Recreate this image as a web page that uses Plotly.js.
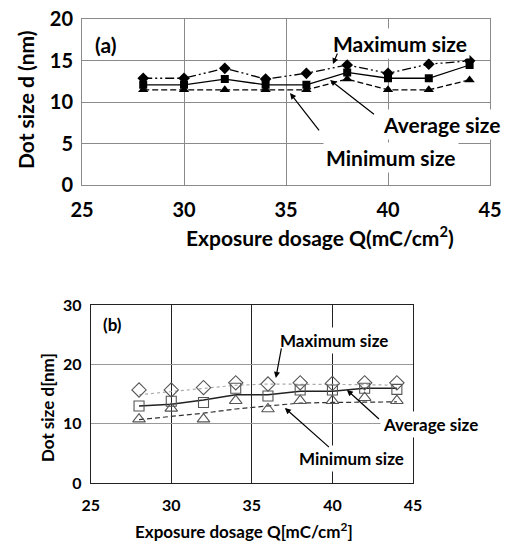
<!DOCTYPE html>
<html>
<head>
<meta charset="utf-8">
<script src="https://cdn.plot.ly/plotly-3.0.1.min.js"></script>
<style>html,body{margin:0;padding:0;background:#fff}#chart{width:505px;height:541px}</style>
</head>
<body>
<div id="chart"></div>
<script>
// ---- Panel (a) data ----
const dosageA = [28, 30, 32, 34, 36, 38, 40, 42, 44];
const maxSizeA = [12.9, 12.9, 14.1, 12.8, 13.5, 14.5, 13.5, 14.6, 15.0];
const avgSizeA = [12.1, 12.1, 12.8, 12.1, 12.1, 13.6, 12.9, 12.9, 14.5];
const minSizeA = [11.5, 11.5, 11.5, 11.5, 11.5, 12.8, 11.5, 11.5, 12.7];

// ---- Panel (b) data ----
const dosageB = [28, 30, 32, 34, 36, 38, 40, 42, 44];
const maxPointsB = [15.7, 15.7, 16.1, 16.9, 16.7, 16.9, 16.8, 16.9, 16.9];
const maxLineB   = [14.9, 15.4, 15.9, 16.5, 16.7, 16.7, 16.6, 16.6, 16.5];
const avgPointsB = [13.0, 13.8, 13.6, 16.0, 14.7, 15.7, 15.7, 16.0, 15.8];
const avgLineB   = [13.0, 13.3, 14.0, 14.9, 14.9, 15.5, 15.5, 16.0, 16.0];
const minPointsB = [10.8, 12.6, 10.8, 13.9, 12.5, 13.9, 13.9, 14.4, 13.9];
const minLineB   = [10.7, 11.2, 11.8, 12.5, 13.0, 13.5, 13.6, 13.7, 13.7];

const xTicks = [25, 30, 35, 40, 45];
const yTicksA = [0, 5, 10, 15, 20];
const yTicksB = [0, 10, 20, 30];

const FONT = 'Lato, "Open Sans", sans-serif';

const traces = [
  // (a)
  {x: dosageA, y: maxSizeA, xaxis: 'x', yaxis: 'y', mode: 'lines+markers', name: 'Maximum size',
   line: {color: '#000', width: 1.3, dash: '9px,3px,2px,3px,2px,3px'},
   marker: {symbol: 'diamond', size: 9, color: '#000'}},
  {x: dosageA, y: avgSizeA, xaxis: 'x', yaxis: 'y', mode: 'lines+markers', name: 'Average size',
   line: {color: '#000', width: 1.3},
   marker: {symbol: 'square', size: 8, color: '#000'}},
  {x: dosageA, y: minSizeA, xaxis: 'x', yaxis: 'y', mode: 'lines+markers', name: 'Minimum size',
   line: {color: '#000', width: 1.3, dash: '6px,3px'},
   marker: {symbol: 'triangle-up', size: 9, color: '#000'}},
  // (b) lines
  {x: dosageB, y: maxLineB, xaxis: 'x2', yaxis: 'y2', mode: 'lines', name: 'Maximum size line',
   line: {color: '#aaa', width: 1.2, dash: 'dot'}},
  {x: dosageB, y: avgLineB, xaxis: 'x2', yaxis: 'y2', mode: 'lines', name: 'Average size line',
   line: {color: '#222', width: 1.5}},
  {x: dosageB, y: minLineB, xaxis: 'x2', yaxis: 'y2', mode: 'lines', name: 'Minimum size line',
   line: {color: '#333', width: 1.2, dash: '5px,3px'}},
  // (b) markers
  {x: dosageB, y: maxPointsB, xaxis: 'x2', yaxis: 'y2', mode: 'markers', name: 'Maximum size',
   marker: {symbol: 'diamond-open', size: 11, color: '#555', line: {width: 1.1}}},
  {x: dosageB, y: avgPointsB, xaxis: 'x2', yaxis: 'y2', mode: 'markers', name: 'Average size',
   marker: {symbol: 'square-open', size: 10, color: '#555', line: {width: 1.1}}},
  {x: dosageB, y: minPointsB, xaxis: 'x2', yaxis: 'y2', mode: 'markers', name: 'Minimum size',
   marker: {symbol: 'triangle-up-open', size: 11, color: '#555', line: {width: 1.1}}}
];

function lab(text, x, y, xr, yr, size, bg, angle) {
  return {text: '<b>' + text + '</b>', x: x, y: y, xref: xr, yref: yr, showarrow: false,
          font: {family: FONT, size: size, color: '#000'}, bgcolor: bg ? '#fff' : 'rgba(0,0,0,0)',
          borderpad: 2, xanchor: 'center', yanchor: 'middle', textangle: angle || 0};
}
function arr(hx, hy, tx, ty, xr, yr) {
  return {text: '\u00a0', font: {size: 2}, borderpad: 0, x: hx, y: hy, ax: tx, ay: ty,
          xref: xr, yref: yr, axref: xr, ayref: yr,
          showarrow: true, arrowhead: 2, arrowsize: 1, arrowwidth: 1.2, arrowcolor: '#000'};
}

const layout = {
  width: 505, height: 541,
  margin: {l: 0, r: 0, t: 0, b: 0},
  paper_bgcolor: '#fff', plot_bgcolor: '#fff',
  showlegend: false,
  font: {family: FONT, color: '#000'},
  xaxis: {domain: [0.1624, 0.9703], anchor: 'y', range: [25, 45], tickvals: xTicks,
          showgrid: true, gridcolor: '#8a8a8a', gridwidth: 1, zeroline: false,
          showline: true, linecolor: '#8a8a8a', linewidth: 1, mirror: true, ticks: '',
          ticklabelstandoff: 7,
          tickfont: {family: FONT, size: 20, weight: 'bold', color: '#000'}},
  yaxis: {domain: [0.658, 0.964], anchor: 'x', range: [0, 20], tickvals: yTicksA,
          showgrid: true, gridcolor: '#8a8a8a', gridwidth: 1, zeroline: false,
          showline: true, linecolor: '#8a8a8a', linewidth: 1, mirror: true, ticks: '',
          ticklabelstandoff: 4,
          tickfont: {family: FONT, size: 20, weight: 'bold', color: '#000'}},
  xaxis2: {domain: [0.1796, 0.8178], anchor: 'y2', range: [25, 45], tickvals: xTicks,
           showgrid: true, gridcolor: '#222', gridwidth: 1, zeroline: false,
           showline: true, linecolor: '#222', linewidth: 1, mirror: true, ticks: '',
           ticklabelstandoff: 8,
           tickfont: {family: FONT, size: 16, weight: 'bold', color: '#000'}},
  yaxis2: {domain: [0.1067, 0.4362], anchor: 'x2', range: [0, 30], tickvals: yTicksB,
           showgrid: true, gridcolor: '#999', gridwidth: 1, zeroline: false,
           showline: true, linecolor: '#222', linewidth: 1, mirror: true, ticks: '',
           ticklabelstandoff: 5,
           tickfont: {family: FONT, size: 16, weight: 'bold', color: '#000'}},
  annotations: [
    // axis titles
    lab('Exposure dosage Q(mC/cm<sup>2</sup>)', 0.6337, 0.5638, 'paper', 'paper', 21, false),
    lab('Dot size d (nm)', 0.0515, 0.8152, 'paper', 'paper', 21, false, -90),
    lab('Exposure dosage Q[mC/cm<sup>2</sup>]', 0.4832, 0.0203, 'paper', 'paper', 17, false),
    lab('Dot size d[nm]', 0.0931, 0.2458, 'paper', 'paper', 17, false, -90),
    // panel (a) labels
    lab('(a)', 26.13, 17.03, 'x', 'y', 21, false),
    lab('Maximum size', 40.59, 17.15, 'x', 'y', 21, true),
    lab('Average size', 42.6, 7.37, 'x', 'y', 21, true),
    lab('Minimum size', 40.15, 3.38, 'x', 'y', 21, true),
    arr(37.30, 14.61, 37.55, 16.06, 'x', 'y'),
    arr(37.16, 12.68, 39.36, 8.45, 'x', 'y'),
    arr(35.20, 11.11, 36.67, 6.44, 'x', 'y'),
    // panel (b) labels
    lab('(b)', 26.38, 26.73, 'x2', 'y2', 17, false),
    lab('Maximum size', 40.09, 24.04, 'x2', 'y2', 17, true),
    lab('Average size', 0.8515, 9.82, 'paper', 'y2', 17, true),
    lab('Minimum size', 41.18, 4.18, 'x2', 'y2', 17, true),
    arr(36.49, 17.73, 36.85, 22.95, 'x2', 'y2'),
    arr(40.90, 15.71, 42.95, 10.66, 'x2', 'y2'),
    arr(37.05, 12.68, 39.85, 5.94, 'x2', 'y2')
  ]
};

Plotly.newPlot('chart', traces, layout, {displayModeBar: false, staticPlot: true});
</script>
</body>
</html>
